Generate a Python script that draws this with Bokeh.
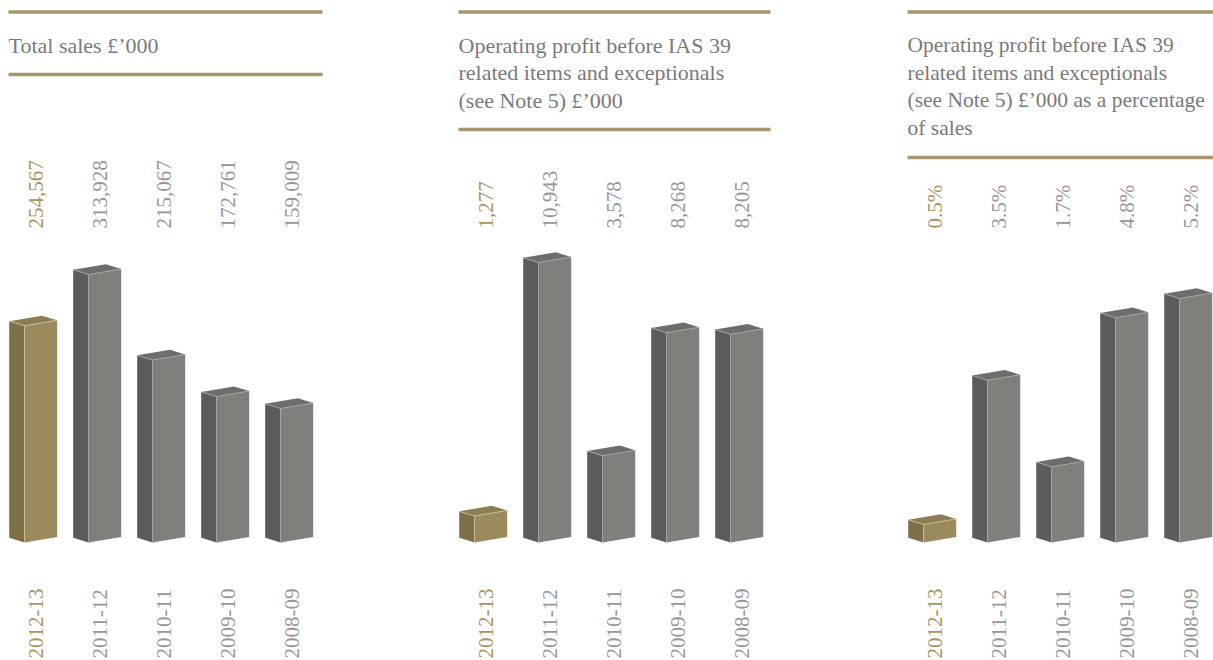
import math
from bokeh.plotting import figure
from bokeh.models import Range1d
from bokeh.core.properties import value
from bokeh.embed import file_html
from bokeh.resources import INLINE

# ---------------- data ----------------
years = ["2012-13", "2011-12", "2010-11", "2009-10", "2008-09"]
sales = [254567, 313928, 215067, 172761, 159009]
sales_labels = ["254,567", "313,928", "215,067", "172,761", "159,009"]
profit = [1277, 10943, 3578, 8268, 8205]
profit_labels = ["1,277", "10,943", "3,578", "8,268", "8,205"]
pct = [0.5, 3.5, 1.7, 4.8, 5.2]
pct_labels = ["0.5%", "3.5%", "1.7%", "4.8%", "5.2%"]

titles = [
    ["Total sales £’000"],
    ["Operating profit before IAS 39", "related items and exceptionals", "(see Note 5) £’000"],
    ["Operating profit before IAS 39", "related items and exceptionals",
     "(see Note 5) £’000 as a percentage", "of sales"],
]

# ---------------- layout / style ----------------
W, H = 1213, 660
X0, Y0 = 0, 0
FONT = value("Liberation Serif")
GOLD_LINE = "#a8956a"
TITLE_COL = "#7a7a7a"
GREY_TXT = "#979797"
GOLD_TXT = "#a8955f"
FACE_GOLD = ("#7e6f48", "#9b8a5c", "#8c7d54")   # left, front, top
FACE_GREY = ("#5c5c5b", "#807f7b", "#6d6d6b")
EDGE_GOLD = "#cfc5a6"
EDGE_GREY = "#a9a9a5"

p = figure(width=W, height=H, output_backend="svg", toolbar_location=None,
           x_range=Range1d(X0, X0 + W), y_range=Range1d(Y0 + H, Y0),
           min_border=0)
p.axis.visible = False
p.grid.visible = False
p.outline_line_color = None
p.background_fill_color = "white"
p.border_fill_color = "white"

panel_ox = [0, 450, 899]
panel_line_end = [322, 770, 1213]
panel_bottom_line = [74, 129, 157]
title_size = ["22px", "22px", "21.5px"]
zero_px = [545.5, 549.0, 548.0]     # image y where value 0 would sit
top_px_of_max = [274.0, 262.0, 298.0]
series = [sales, profit, pct]
labels = [sales_labels, profit_labels, pct_labels]

BAR_BOTTOM = 542.0
WL, WF = 15.3, 32.7
DYL, DYR = 4.7, 5.5
SPACING = 64
FX0 = 24

for pi_, (ox, vals, labs) in enumerate(zip(panel_ox, series, labels)):
    # value scale for this panel
    k = (zero_px[pi_] - top_px_of_max[pi_]) / max(vals)   # px per unit
    z = zero_px[pi_]
    rname = "r%d" % pi_
    p.extra_y_ranges[rname] = Range1d(start=(z - (Y0 + H)) / k, end=(z - Y0) / k)
    b = (z - BAR_BOTTOM) / k
    dl, dr = DYL / k, DYR / k

    # title rules
    p.segment(x0=[ox + 8, ox + 8], x1=[panel_line_end[pi_]] * 2,
              y0=[11.5, panel_bottom_line[pi_]], y1=[11.5, panel_bottom_line[pi_]],
              line_color=GOLD_LINE, line_width=3.5)
    # title text
    tl = titles[pi_]
    p.text(x=[ox + 8] * len(tl), y=[44.5 + 27.5 * i for i in range(len(tl))], text=tl,
           text_font=FONT, text_font_size=title_size[pi_], text_color=TITLE_COL,
           text_align="left", text_baseline="alphabetic")

    for i, v in enumerate(vals):
        fx = ox + FX0 + SPACING * i
        gold = (i == 0)
        faces = FACE_GOLD if gold else FACE_GREY
        edge = EDGE_GOLD if gold else EDGE_GREY
        t = v
        xs = [
            [fx - WL, fx, fx, fx - WL],
            [fx, fx + WF, fx + WF, fx],
            [fx, fx - WL, fx - WL + WF, fx + WF],
        ]
        ys = [
            [b + dl, b, t, t + dl],
            [b, b + dr, t + dr, t],
            [t, t + dl, t + dl + dr, t + dr],
        ]
        p.patches(xs=xs, ys=ys, fill_color=list(faces), line_color=None,
                  y_range_name=rname)
        # light highlight edges
        p.multi_line(xs=[[fx, fx], [fx - WL, fx, fx + WF]],
                     ys=[[b, t], [t + dl, t, t + dr]],
                     line_color=edge, line_width=0.8, y_range_name=rname)

        col = GOLD_TXT if gold else GREY_TXT
        cx = fx + 11.5
        p.text(x=[cx], y=[228], text=[labs[i]], angle=math.pi / 2,
               text_font=FONT, text_font_size="21px", text_color=col,
               text_align="left", text_baseline="middle")
        p.text(x=[cx], y=[658], text=[years[i]], angle=math.pi / 2,
               text_font=FONT, text_font_size="21px", text_color=col,
               text_align="left", text_baseline="middle")

open("out.html", "w").write(file_html(p, INLINE))
